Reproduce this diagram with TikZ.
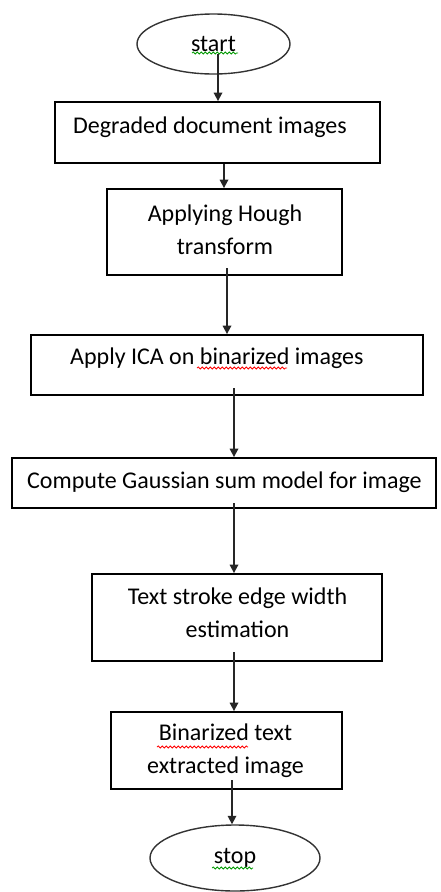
\documentclass[tikz,border=0pt]{standalone}
\usepackage{fontspec}
\setmainfont{Carlito}
\usetikzlibrary{arrows.meta,shapes.geometric,decorations.pathmorphing}
\begin{document}
\begin{tikzpicture}[x=1pt,y=-1pt,
  box/.style={draw=black, line width=1.8pt, inner sep=0pt},
  lbl/.style={font=\fontsize{24}{33}\selectfont, text=black, inner sep=0pt},
  term/.style={ellipse, draw=black!80, line width=1.4pt, inner sep=0pt, font=\fontsize{24}{33}\selectfont, text=black},
  arr/.style={line width=1.7pt, draw=black!85, -{Triangle[length=8.5pt,width=8.5pt]}},
  squig/.style={decorate, decoration={snake, segment length=4pt, amplitude=1pt}, line width=0.8pt}
]
\useasboundingbox (0,0) rectangle (441,892);
% terminals
\node[term, minimum width=153, minimum height=60] (s) at (213.5,44) {start};
\node[term, minimum width=170, minimum height=66] (e) at (235,858) {stop};
% boxes
\node[box, minimum width=325, minimum height=61] (b1) at (217.5,132.5) {};
\node[box, minimum width=235, minimum height=86] (b2) at (224.5,232) {};
\node[box, minimum width=392, minimum height=60] (b3) at (227,365) {};
\node[box, minimum width=424, minimum height=50] (b4) at (224,483) {};
\node[box, minimum width=290, minimum height=87] (b5) at (237,617.5) {};
\node[box, minimum width=231, minimum height=77] (b6) at (226.5,750.5) {};
% texts
\node[lbl, anchor=west] (t1) at (73,127) {Degraded document images};
\node[lbl, align=center] (t2) at (225,230) {Applying Hough\\transform};
\node[lbl, anchor=west] (t3) at (70,358) {Apply ICA on binarized images};
\node[lbl, anchor=west] (t4) at (27,482) {Compute Gaussian sum model for image};
\node[lbl, align=center] (t5) at (237.5,612.5) {Text stroke edge width\\estimation};
\node[lbl, align=center] (t6) at (225.5,751) {Binarized text\\extracted image};
% spelling squiggles
\draw[squig, draw=green!60!black] (192,53) -- (238,53);
\draw[squig, draw=green!60!black] (212,868) -- (253,868);
\draw[squig, draw=red] (197,368) -- (287,368);
\draw[squig, draw=red] (157,747) -- (248,747);
% connectors
\coordinate (a1) at (218,54);
\coordinate (a2) at (224,163);
\coordinate (a3) at (227,268);
\coordinate (a4) at (234,388);
\coordinate (a5) at (234,503);
\coordinate (a6) at (234,652);
\coordinate (a7) at (232,780);
\draw[arr] (a1) -- (a1 |- b1.north);
\draw[arr] (a2 |- b1.south) -- (a2 |- b2.north);
\draw[arr] (a3) -- (a3 |- b3.north);
\draw[arr] (a4) -- (a4 |- b4.north);
\draw[arr] (a5) -- (a5 |- b5.north);
\draw[arr] (a6) -- (a6 |- b6.north);
\draw[arr] (a7) -- (a7 |- e.north);
\end{tikzpicture}
\end{document}
